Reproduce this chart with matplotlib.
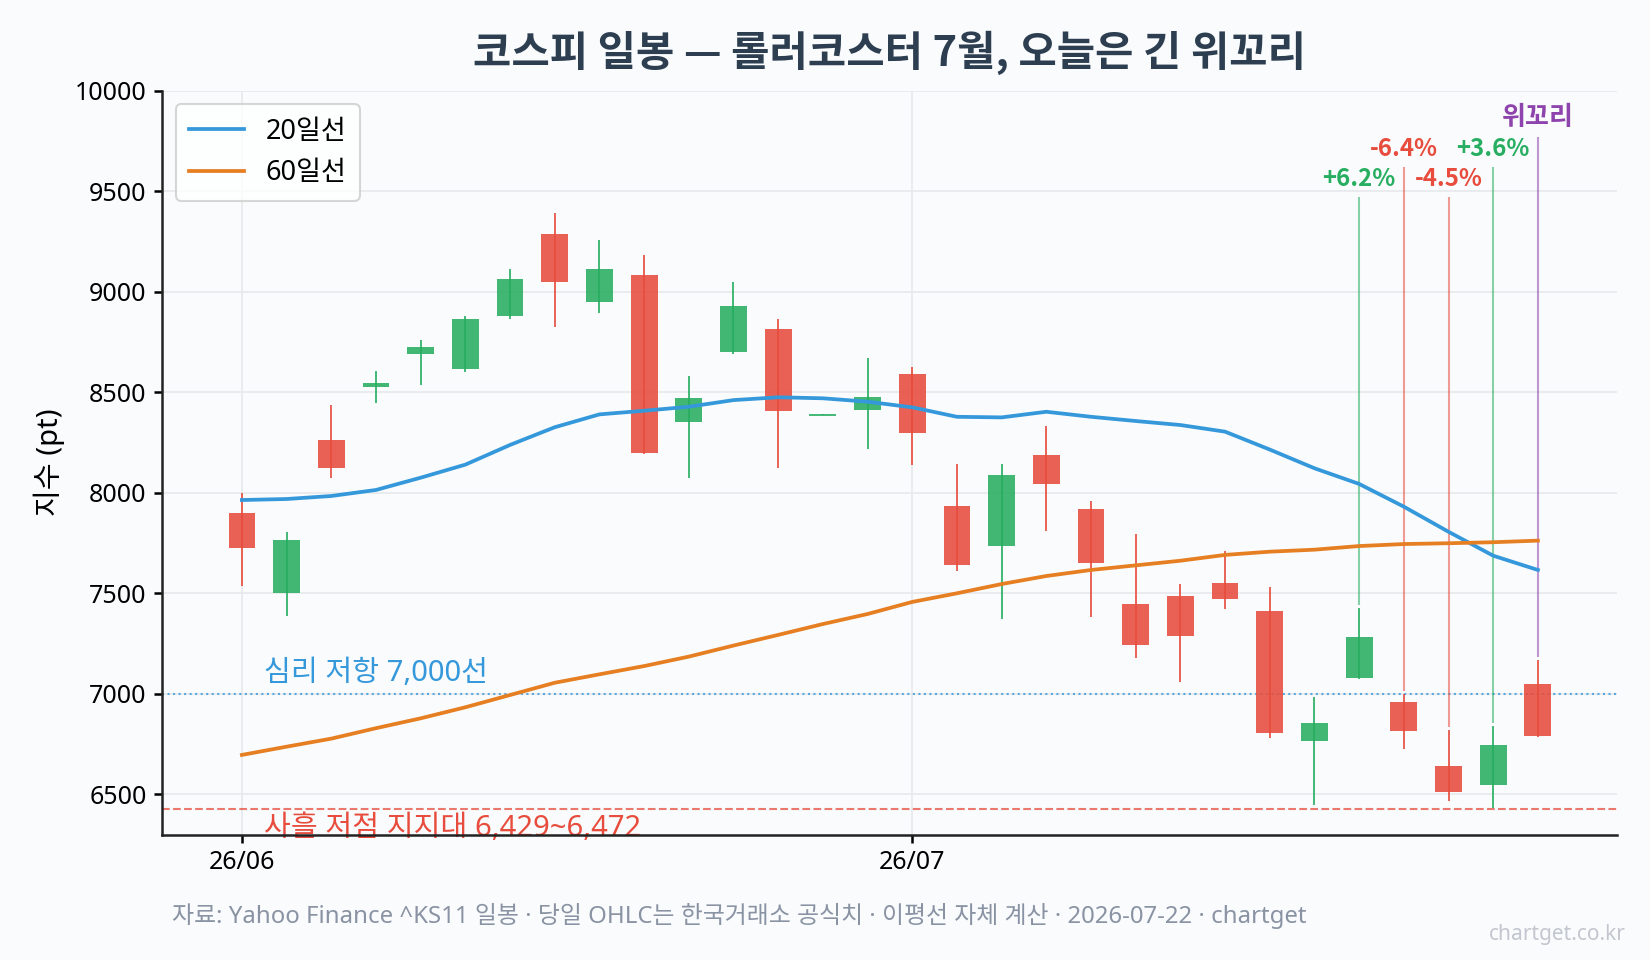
import matplotlib
matplotlib.use('Agg')
import matplotlib.pyplot as plt

plt.rcParams['font.family'] = ['Noto Sans', 'Noto Sans CJK KR', 'DejaVu Sans']
plt.rcParams['axes.unicode_minus'] = False
BOLD_FONT = ['Noto Sans CJK KR', 'DejaVu Sans']

# daily candles (index 0 = 26/06 start)
opens  = [7900, 7503, 8263, 8525, 8692, 8617, 8881, 9287, 8950, 9083,
          8354, 8702, 8815, 8388, 8413, 8591, 7934, 7737, 8188, 7919,
          7448, 7485, 7550, 7412, 6767, 7080, 6960, 6641, 6548, 7047]
highs  = [8000, 7805, 8437, 8606, 8760, 8879, 9113, 9392, 9257, 9183,
          8581, 9048, 8864, 8392, 8670, 8626, 8143, 8143, 8332, 7959,
          7795, 7547, 7709, 7531, 6984, 7428, 7000, 6820, 6841, 7168]
lows   = [7536, 7389, 8075, 8448, 8538, 8602, 8866, 8826, 8896, 8195,
          8075, 8690, 8125, 8388, 8219, 8138, 7612, 7374, 7811, 7384,
          7180, 7060, 7423, 6779, 6447, 7075, 6726, 6465, 6431, 6787]
closes = [7727, 7765, 8122, 8545, 8725, 8864, 9063, 9050, 9113, 8199,
          8471, 8929, 8408, 8392, 8476, 8299, 7642, 8088, 8045, 7652,
          7244, 7289, 7473, 6804, 6855, 7283, 6817, 6513, 6745, 6792]

ma20 = [7964, 7969, 7984, 8014, 8075, 8140, 8238, 8326, 8390, 8408,
        8428, 8461, 8475, 8470, 8453, 8425, 8378, 8375, 8403, 8378,
        8357, 8337, 8304, 8215, 8122, 8044, 7931, 7806, 7687, 7616]
ma60 = [6696, 6737, 6777, 6829, 6878, 6933, 6994, 7055, 7097, 7138,
        7185, 7240, 7293, 7347, 7397, 7457, 7500, 7546, 7586, 7616,
        7639, 7662, 7691, 7707, 7717, 7735, 7745, 7749, 7754, 7762]

tick_pos = [0, 15]
tick_labels = ['26/06', '26/07']

# labels over the last few sessions
ann_idx = [25, 26, 27, 28, 29]
ann_text = ['+6.2%', '-6.4%', '-4.5%', '+3.6%', '위꼬리']
ann_top = [9470, 9620, 9470, 9620, 9770]

resist = 7000
support_lo = 6429
support_hi = 6472

UP = '#27ae60'
DOWN = '#e74c3c'
BG = '#f9fbfd'

fig = plt.figure(figsize=(11, 6.4), dpi=150, facecolor=BG)
ax = fig.add_axes([0.0984, 0.1307, 0.8816, 0.7748], facecolor=BG)

w = 0.6
for i in range(len(opens)):
    o, h, l, c = opens[i], highs[i], lows[i], closes[i]
    col = UP if c >= o else DOWN
    ax.vlines(i, l, h, color=col, lw=0.9, alpha=0.9, zorder=3)
    body = abs(c - o)
    if body < 8:
        ax.hlines(o, i - w/2, i + w/2, color=col, lw=0.9, alpha=0.9, zorder=3)
    else:
        ax.bar(i, body, bottom=min(o, c), width=w, color=col, alpha=0.88,
               linewidth=0, zorder=3)

x = list(range(len(ma20)))
ax.plot(x, ma20, color='#3498db', lw=1.8, label='20일선', zorder=4)
ax.plot(x, ma60, color='#e67e22', lw=1.8, label='60일선', zorder=4)

# reference levels
ax.axhline(resist, color='#3498db', ls=':', lw=1.0, alpha=0.8, zorder=2)
ax.text(0.5, resist + 30, '심리 저항 7,000선', color='#3498db', fontsize=14,
        ha='left', va='bottom')
ax.axhline(support_lo, color=DOWN, ls='--', lw=1.0, alpha=0.75, zorder=2)
ax.text(0.5, support_lo - 25, '사흘 저점 지지대 %s~%s' % (format(support_lo, ','), format(support_hi, ',')),
        color=DOWN, fontsize=14, ha='left', va='top', zorder=1)

for k in range(len(ann_idx)):
    i = ann_idx[k]
    if ann_text[k] == '위꼬리':
        col = '#8e44ad'
    elif ann_text[k].startswith('+'):
        col = UP
    else:
        col = DOWN
    ax.vlines(i, highs[i] + 15, ann_top[k], color=col, lw=1.0, alpha=0.55, zorder=2)
    ax.annotate(ann_text[k], xy=(i, ann_top[k]), xytext=(0, 3), textcoords='offset points',
                ha='center', va='bottom', color=col, fontsize=11.5 if k < 4 else 12.5,
                fontweight='bold', family=BOLD_FONT)

ax.set_xlim(-1.78, 30.77)
ax.set_ylim(6300, 10000)
ax.set_yticks([6500, 7000, 7500, 8000, 8500, 9000, 9500, 10000])
ax.set_xticks(tick_pos)
ax.set_xticklabels(tick_labels)
ax.tick_params(labelsize=12, length=4, width=1.2)
ax.grid(True, color='#e6e8ec', lw=0.8, zorder=0)
ax.set_axisbelow(True)
for s in ['top', 'right']:
    ax.spines[s].set_visible(False)
for s in ['left', 'bottom']:
    ax.spines[s].set_linewidth(1.2)
    ax.spines[s].set_color('#222222')

ax.set_ylabel('지수 (pt)', fontsize=14, labelpad=5)
ax.set_title('코스피 일봉 — 롤러코스터 7월, 오늘은 긴 위꼬리', fontsize=20,
             fontweight='bold', color='#2c3e50', pad=12, family=BOLD_FONT)

leg = ax.legend(loc='upper left', fontsize=13, frameon=True, fancybox=True,
                borderpad=0.5, handlelength=2.0)
leg.get_frame().set_edgecolor('#cccccc')
leg.get_frame().set_facecolor('white')

fig.text(0.104, 0.046, '자료: Yahoo Finance ^KS11 일봉 · 당일 OHLC는 한국거래소 공식치 · 이평선 자체 계산 · 2026-07-22 · chartget',
         fontsize=11.5, color='#8a93a3', ha='left', va='center')
fig.text(0.9855, 0.027, 'chartget.co.kr', fontsize=10, color='#c2c7cf', ha='right', va='center')

fig.savefig('out.png', dpi=150, facecolor=BG)
